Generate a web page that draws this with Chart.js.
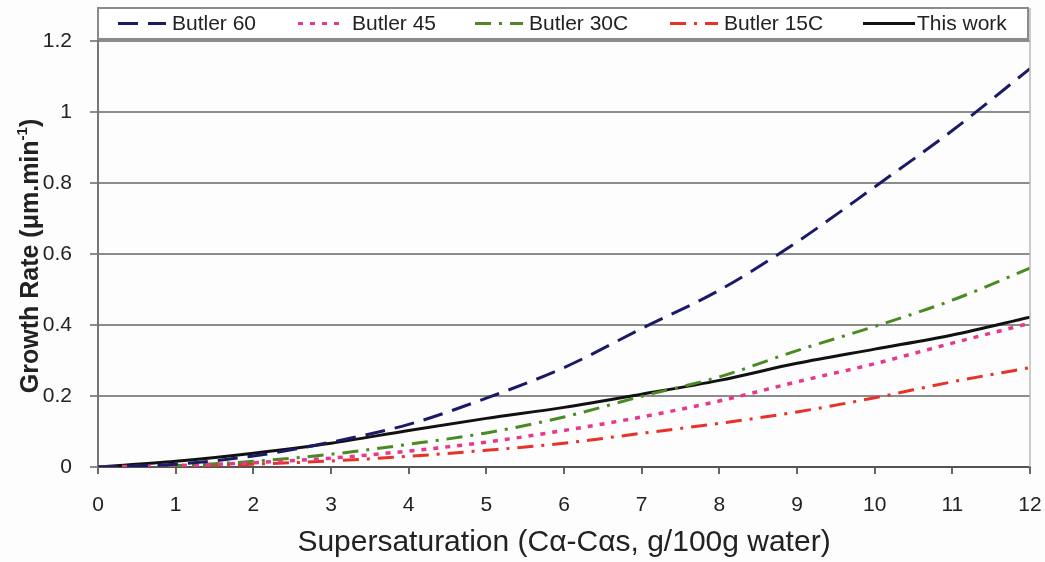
<!DOCTYPE html>
<html>
<head>
<meta charset="utf-8">
<script src="https://cdn.jsdelivr.net/npm/chart.js@4.4.1/dist/chart.umd.min.js"></script>
<style>
  body { margin: 0; background: #fdfdfd; }
  #wrap { width: 1045px; height: 562px; }
</style>
</head>
<body>
<div id="wrap"><canvas id="growth" width="1045" height="562"></canvas></div>
<script>
// supersaturation values (x)
const supersat = [0, 1, 2, 3, 4, 5, 6, 7, 8, 9, 10, 11, 12];

// growth rates (um/min)
const butler60  = [0, 0.008, 0.031, 0.070, 0.120, 0.194, 0.280, 0.390, 0.498, 0.634, 0.789, 0.948, 1.122];
const butler45  = [0, 0.004, 0.012, 0.025, 0.045, 0.070, 0.103, 0.141, 0.186, 0.240, 0.291, 0.349, 0.405];
const butler30C = [0, 0.004, 0.016, 0.036, 0.064, 0.096, 0.141, 0.199, 0.254, 0.328, 0.396, 0.470, 0.560];
const butler15C = [0, 0.002, 0.008, 0.017, 0.030, 0.047, 0.067, 0.095, 0.123, 0.155, 0.195, 0.240, 0.280];
const thisWork  = [0, 0.016, 0.039, 0.067, 0.103, 0.137, 0.168, 0.205, 0.244, 0.292, 0.332, 0.372, 0.422];

const yTicks = [0, 0.2, 0.4, 0.6, 0.8, 1, 1.2];

const FONT = '"Liberation Sans", Arial, sans-serif';

function series(label, values, color, dash, width) {
    return {
        label: label,
        data: supersat.map((x, i) => ({ x: x, y: values[i] })),
        borderColor: color,
        borderDash: dash,
        borderWidth: width,
        pointRadius: 0,
        fill: false,
        cubicInterpolationMode: 'monotone',
        borderCapStyle: 'butt'
    };
}

const datasets = [
    series('Butler 60', butler60, '#1a1a66', [20, 10], 3),
    series('Butler 45', butler45, '#e8378d', [5, 7], 3.5),
    series('Butler 30C', butler30C, '#4a8a22', [16, 8, 3, 8], 3),
    series('Butler 15C', butler15C, '#e5332a', [16, 8, 3, 8], 3),
    series('This work', thisWork, '#111111', [], 3)
];

// legend box drawn over the top of the plot, like the original
const legendStarts = [118, 298, 475, 670, 863];

const boxLegend = {
    id: 'boxLegend',
    afterDraw(chart) {
        const ctx = chart.ctx;
        const area = chart.chartArea;
        ctx.save();
        // right frame line of the plot
        ctx.strokeStyle = '#b8b8b8';
        ctx.lineWidth = 1.5;
        ctx.beginPath();
        ctx.moveTo(area.right, area.top);
        ctx.lineTo(area.right, area.bottom);
        ctx.stroke();

        const top = area.top, h = 31;
        ctx.fillStyle = '#ffffff';
        ctx.fillRect(area.left, top, area.right - 2 - area.left, h);
        ctx.strokeStyle = '#8a8a8a';
        ctx.lineWidth = 2;
        ctx.strokeRect(area.left, top, area.right - 2 - area.left, h);

        ctx.font = '21px ' + FONT;
        ctx.textBaseline = 'middle';
        ctx.fillStyle = '#222';
        const cy = top + h / 2;
        chart.data.datasets.forEach((ds, i) => {
            const x0 = legendStarts[i];
            ctx.strokeStyle = ds.borderColor;
            ctx.lineWidth = 3;
            ctx.setLineDash(ds.borderDash);
            ctx.beginPath();
            ctx.moveTo(x0, cy);
            ctx.lineTo(x0 + (ds.borderDash.length ? 48 : 52), cy);
            ctx.stroke();
            ctx.setLineDash([]);
            ctx.fillText(ds.label, x0 + 54, cy + 1);
        });

        // y axis title with superscript
        ctx.translate(38, 256);
        ctx.rotate(-Math.PI / 2);
        ctx.textBaseline = 'alphabetic';
        const main = 'Growth Rate (\u03bcm.min';
        const sup = '-1';
        const tail = ')';
        ctx.font = 'bold 25px ' + FONT;
        const wMain = ctx.measureText(main).width;
        const wTail = ctx.measureText(tail).width;
        ctx.font = 'bold 15px ' + FONT;
        const wSup = ctx.measureText(sup).width;
        let x = -(wMain + wSup + wTail) / 2;
        ctx.font = 'bold 25px ' + FONT;
        ctx.fillText(main, x, 0);
        x += wMain;
        ctx.font = 'bold 15px ' + FONT;
        ctx.fillText(sup, x, -11);
        x += wSup;
        ctx.font = 'bold 25px ' + FONT;
        ctx.fillText(tail, x, 0);
        ctx.restore();
    }
};

new Chart(document.querySelector('#growth'), {
    type: 'line',
    data: { datasets: datasets },
    plugins: [boxLegend],
    options: {
        responsive: false,
        animation: false,
        devicePixelRatio: 1,
        layout: { padding: { top: 8, right: 15, left: 0, bottom: 0 } },
        plugins: { legend: { display: false }, tooltip: { enabled: false } },
        scales: {
            x: {
                type: 'linear',
                min: 0,
                max: 12,
                afterFit: s => { s.height = 95; s.paddingLeft = 0; s.paddingRight = 0; },
                ticks: { stepSize: 1, padding: 19, color: '#222', font: { family: FONT, size: 21 } },
                grid: { drawOnChartArea: false, drawTicks: true, tickLength: 7, color: '#666', lineWidth: 2 },
                border: { color: '#555', width: 2 },
                title: {
                    display: true,
                    text: 'Supersaturation (C\u03b1-C\u03b1s, g/100g water)',
                    color: '#222',
                    font: { family: FONT, size: 30 },
                    padding: { top: 0, bottom: 1 }
                }
            },
            y: {
                type: 'linear',
                min: 0,
                max: 1.293,
                afterFit: s => { s.width = 98; s.paddingTop = 0; s.paddingBottom = 0; },
                afterBuildTicks: s => { s.ticks = yTicks.map(v => ({ value: v })); },
                ticks: {
                    padding: 18,
                    color: '#222',
                    font: { family: FONT, size: 21 },
                    callback: v => String(Math.round(v * 10) / 10)
                },
                grid: { color: '#8c8c8c', lineWidth: 2, tickLength: 8 },
                border: { color: '#777', width: 2 }
            }
        }
    }
});
</script>
</body>
</html>
